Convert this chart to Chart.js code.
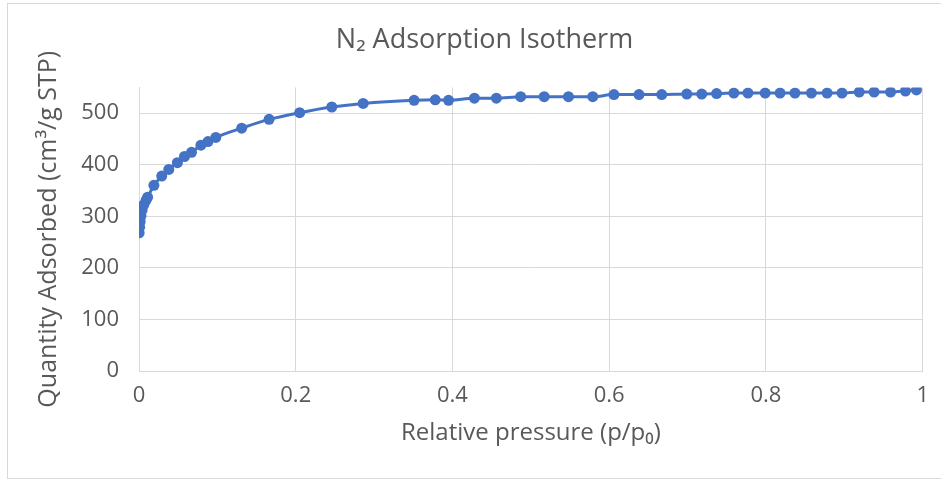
<!DOCTYPE html>
<html>
<head>
<meta charset="utf-8">
<script src="https://cdn.jsdelivr.net/npm/chart.js@4"></script>
<style>
  html, body { margin: 0; padding: 0; background: #fff; overflow: hidden; }
  #frame { position: absolute; left: 7px; top: 3px; width: 1000px; height: 474px; border: 1px solid #d9d9d9; }
  #wrap { position: absolute; left: 0; top: 0; width: 941px; height: 481px; }
</style>
</head>
<body>
<div id="frame"></div>
<div id="wrap"><canvas id="isotherm" width="941" height="481"></canvas></div>
<script>
// relative pressure p/p0
const pressure = [
    0.0002, 0.0008, 0.0015, 0.0025, 0.004, 0.006, 0.009, 0.011,
    0.019, 0.029, 0.038, 0.049, 0.058, 0.067, 0.079, 0.088, 0.098,
    0.131, 0.166, 0.205, 0.246, 0.286,
    0.351, 0.378, 0.395, 0.428, 0.456, 0.487, 0.517, 0.548, 0.579, 0.606,
    0.638, 0.667, 0.699, 0.718, 0.737, 0.759, 0.777, 0.799, 0.818, 0.837,
    0.858, 0.878, 0.897, 0.919, 0.938, 0.959, 0.978, 0.992
];
// quantity adsorbed, cm3/g STP
const quantity = [
    268, 279, 290, 301, 312, 322, 331, 337,
    360, 378, 391, 404, 416, 424, 438, 445, 453,
    471, 488, 501, 512, 519,
    525, 526, 525, 529, 529, 532, 532, 532, 532, 536,
    536, 536, 537, 537, 538, 539, 539, 539, 539, 539,
    539, 539, 539, 541, 541, 541, 543, 545
];
const xTicks = [0, 0.2, 0.4, 0.6, 0.8, 1];
const yTicks = [0, 100, 200, 300, 400, 500];

const textColor = '#595959';
const gridColor = '#d9d9d9';
const blue = '#4472c4';
const fontFamily = '"Open Sans", "DejaVu Sans", sans-serif';

Chart.defaults.color = textColor;
Chart.defaults.font.family = fontFamily;

new Chart(document.getElementById('isotherm'), {
    type: 'scatter',
    data: {
        datasets: [{
            data: pressure.map((p, i) => ({ x: p, y: quantity[i] })),
            showLine: true,
            borderColor: blue,
            backgroundColor: blue,
            borderWidth: 3,
            pointRadius: 5.5,
            pointHoverRadius: 5.5,
            pointBorderWidth: 0,
            cubicInterpolationMode: 'monotone'
        }]
    },
    options: {
        responsive: false,
        animation: false,
        layout: { padding: { left: 39, right: 11, top: 0, bottom: 0 } },
        plugins: {
            legend: { display: false },
            tooltip: { enabled: false },
            title: {
                display: true,
                text: 'N\u2082 Adsorption Isotherm',
                color: textColor,
                font: { size: 27, weight: 'normal', lineHeight: 1.2 },
                padding: { top: 24, bottom: 31 }
            }
        },
        scales: {
            x: {
                type: 'linear',
                min: 0,
                max: 1,
                afterBuildTicks: s => { s.ticks = xTicks.map(v => ({ value: v })); },
                afterFit: s => { s.height = 110; },
                grid: { color: gridColor, drawTicks: false },
                border: { color: gridColor },
                ticks: { padding: 12, font: { size: 22 }, color: textColor, callback: v => String(v) },
                title: {
                    display: true,
                    text: 'Relative pressure (p/p\u2080)',
                    color: textColor,
                    font: { size: 24, lineHeight: 1.2 },
                    padding: { top: 0, bottom: 33 }
                }
            },
            y: {
                min: 0,
                max: 550,
                afterBuildTicks: s => { s.ticks = yTicks.map(v => ({ value: v })); },
                afterFit: s => { s.width = 100; },
                grid: { color: gridColor, drawTicks: false },
                border: { color: gridColor },
                ticks: { padding: 20, font: { size: 22 }, color: textColor },
                title: {
                    display: true,
                    text: 'Quantity Adsorbed (cm\u00b3/g STP)',
                    color: textColor,
                    font: { size: 25, lineHeight: 1.2 },
                    padding: { top: -5, bottom: 0 }
                }
            }
        }
    }
});
</script>
</body>
</html>
